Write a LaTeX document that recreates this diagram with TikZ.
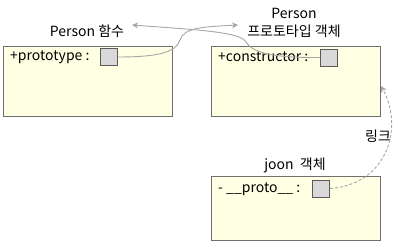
\documentclass[tikz,border=0pt]{standalone}
\usepackage{fontspec}
\setmainfont{Noto Sans CJK KR}
\usetikzlibrary{arrows.meta}
\definecolor{boxfill}{HTML}{FFFFE3}
\definecolor{boxline}{HTML}{707070}
\definecolor{slotfill}{HTML}{D9D9D9}
\definecolor{linkc}{HTML}{A6A6A6}
\begin{document}
\begin{tikzpicture}[x=1pt,y=-1pt,
  objbox/.style={draw=boxline, fill=boxfill, line width=0.9pt},
  slot/.style={draw=boxline!80!black, fill=slotfill, line width=0.8pt, minimum width=17pt, minimum height=17pt, inner sep=0pt},
  lbl/.style={font=\fontsize{14}{18}\selectfont, inner sep=0pt, align=center},
  fld/.style={font=\fontsize{14}{18}\selectfont, inner sep=0pt, anchor=west},
  link/.style={draw=linkc, line width=0.9pt, -{Stealth[length=6pt,width=6pt]}}]
\useasboundingbox (0,0) rectangle (400,248);
% boxes
\draw[objbox] (3,46) rectangle (172,116);
\draw[objbox] (211,46) rectangle (380,116);
\draw[objbox] (211,176) rectangle (380,240);
% fields
\node[fld] (f1) at (10,57) {+prototype :};
\node[slot] (s1) at (109,57) {};
\node[fld] (f2) at (218,57) {+constructor :};
\node[slot] (s2) at (329,57.5) {};
\node[fld] (f3) at (218,189) {- \_\_proto\_\_ :};
\node[slot] (s3) at (321,188.5) {};
% labels
\node[lbl] (l1) at (87,31) {Person 함수};
\node[lbl] (l2) at (294,23) {Person\\프로토타입 객체};
\node[lbl] (l3) at (295,165) {joon\ \ 객체};
\node[lbl] (l4) at (378,136) {링크};
\coordinate (t1) at (238,25);
\coordinate (t2) at (132,25);
\coordinate (t3) at (381,86);
% connectors
\draw[link] (s1.east) .. controls (160,57) and (176,52) .. (180,40) .. controls (184,28) and (200,27) .. (t1);
\draw[link] (s2.west) .. controls (270,58) and (252,52) .. (246,42) .. controls (240,32) and (200,30) .. (t2);
\draw[link, dashed, dash pattern=on 3pt off 2pt] (s3.east) .. controls (385,185) and (405,130) .. (t3);
\end{tikzpicture}
\end{document}
